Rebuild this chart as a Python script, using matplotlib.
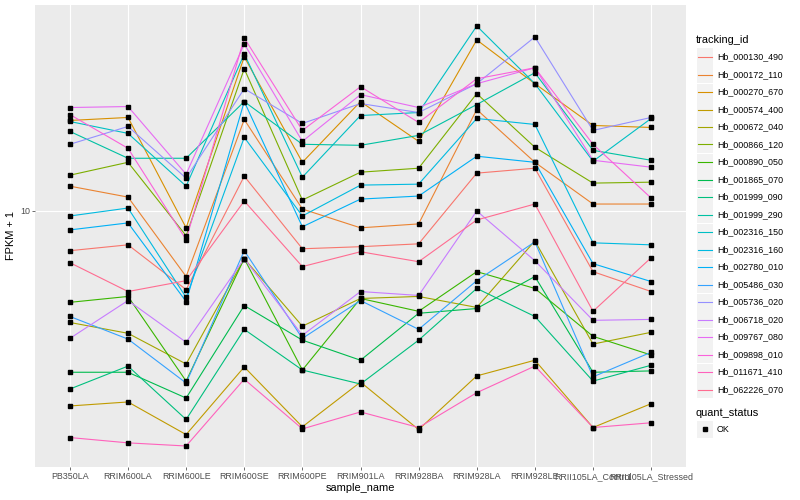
import numpy as np
import matplotlib
matplotlib.use("Agg")
from matplotlib import pyplot as plt
from matplotlib.lines import Line2D
from matplotlib.patches import Rectangle
from matplotlib.ticker import NullLocator

plt.rcParams['font.family'] = ['Liberation Sans', 'DejaVu Sans']

samples = ["PB350LA", "RRIM600LA", "RRIM600LE", "RRIM600SE", "RRIM600PE", "RRIM901LA",
           "RRIM928BA", "RRIM928LA", "RRIM928LE", "RRII105LA_Control", "RRII105LA_Stressed"]

# FPKM + 1 per gene, one value per sample
hb_000130_490 = [7.36, 7.70, 5.45, 13.08, 7.47, 7.59, 7.76, 13.39, 13.91, 6.26, 5.37]
hb_000172_110 = [12.11, 11.13, 6.03, 20.26, 10.15, 8.78, 9.05, 21.88, 14.56, 10.55, 10.55]
hb_000270_670 = [20.11, 20.58, 8.78, 32.86, 14.56, 23.26, 17.11, 37.44, 26.71, 19.35, 19.05]
hb_000574_400 = [2.22, 2.29, 1.78, 3.00, 1.89, 2.67, 1.85, 2.80, 3.16, 1.88, 2.26]
hb_000672_040 = [4.23, 3.89, 3.07, 6.92, 4.11, 5.09, 5.17, 4.75, 7.94, 3.58, 3.92]
hb_000866_120 = [13.18, 14.56, 8.26, 29.97, 10.88, 13.49, 13.91, 24.74, 16.35, 12.40, 12.49]
hb_000890_050 = [4.94, 5.17, 2.69, 6.92, 2.93, 5.09, 4.61, 6.26, 5.50, 3.80, 3.29]
hb_001865_070 = [2.88, 2.88, 2.36, 4.82, 3.69, 3.16, 4.54, 4.71, 6.03, 2.88, 2.91]
hb_001999_090 = [2.53, 3.02, 2.00, 4.01, 2.93, 2.63, 3.69, 5.50, 4.43, 2.69, 3.04]
hb_001999_290 = [18.48, 15.02, 15.02, 23.26, 16.73, 16.60, 17.92, 22.74, 29.06, 15.97, 14.79]
hb_002316_150 = [19.95, 18.20, 12.11, 33.62, 12.98, 20.89, 21.38, 41.69, 26.71, 14.68, 20.42]
hb_002316_160 = [9.62, 10.23, 5.13, 17.65, 9.62, 12.21, 12.30, 20.42, 19.50, 7.82, 7.70]
hb_002780_010 = [8.64, 9.12, 4.97, 23.26, 8.85, 10.96, 11.22, 15.26, 14.56, 6.66, 5.80]
hb_005486_030 = [4.43, 3.72, 2.65, 7.36, 3.74, 5.01, 4.01, 5.84, 7.88, 2.78, 3.36]
hb_005736_020 = [16.73, 19.20, 12.88, 25.70, 19.65, 22.91, 21.38, 26.71, 38.31, 18.62, 20.58]
hb_006718_020 = [3.74, 5.01, 3.63, 6.92, 3.83, 5.37, 5.21, 10.00, 6.81, 4.30, 4.33]
hb_009767_080 = [22.22, 22.39, 13.28, 36.31, 17.11, 24.55, 22.22, 26.71, 30.20, 14.79, 14.02]
hb_009898_010 = [21.05, 16.22, 8.01, 38.02, 18.62, 26.10, 19.80, 27.75, 30.20, 16.73, 11.05]
hb_011671_410 = [1.74, 1.67, 1.63, 2.73, 1.86, 2.12, 1.88, 2.46, 3.02, 1.88, 1.95]
hb_062226_070 = [6.71, 5.37, 5.84, 10.80, 6.51, 7.30, 6.76, 9.33, 10.55, 4.61, 6.97]

tracking_ids = ["Hb_000130_490", "Hb_000172_110", "Hb_000270_670", "Hb_000574_400",
                "Hb_000672_040", "Hb_000866_120", "Hb_000890_050", "Hb_001865_070",
                "Hb_001999_090", "Hb_001999_290", "Hb_002316_150", "Hb_002316_160",
                "Hb_002780_010", "Hb_005486_030", "Hb_005736_020", "Hb_006718_020",
                "Hb_009767_080", "Hb_009898_010", "Hb_011671_410", "Hb_062226_070"]
series = [hb_000130_490, hb_000172_110, hb_000270_670, hb_000574_400, hb_000672_040,
          hb_000866_120, hb_000890_050, hb_001865_070, hb_001999_090, hb_001999_290,
          hb_002316_150, hb_002316_160, hb_002780_010, hb_005486_030, hb_005736_020,
          hb_006718_020, hb_009767_080, hb_009898_010, hb_011671_410, hb_062226_070]

# ggplot default hue palette for 20 groups
colors = ["#F8766D", "#EA8331", "#D89000", "#C09B00", "#A3A500", "#7CAE00", "#39B600",
          "#00BB4E", "#00BF7D", "#00C1A3", "#00BFC4", "#00BAE0", "#00B0F6", "#35A2FF",
          "#9590FF", "#C77CFF", "#E76BF3", "#FA62DB", "#FF62BC", "#FF6C91"]

W, H = 800, 500
fig = plt.figure(figsize=(8, 5), dpi=100)
ax = fig.add_axes([35 / W, 1 - 467 / H, 651 / W, 462 / H])
ax.set_facecolor('#EBEBEB')

x = np.arange(len(samples))
for vals, c in zip(series, colors):
    ax.plot(x, vals, color=c, lw=0.8, zorder=2)
for vals in series:
    ax.plot(x, vals, ls='none', marker='s', color='black', ms=2.6, zorder=3)

ax.set_yscale('log')
allv = np.log10(np.concatenate([np.array(s) for s in series]))
lo, hi = allv.min(), allv.max()
pad = 0.05 * (hi - lo)
ax.set_ylim(10 ** (lo - pad), 10 ** (hi + pad))
ax.set_xlim(-0.6, len(samples) - 0.4)

ax.set_xticks(x)
ax.set_xticklabels(samples)
ax.set_yticks([10])
ax.set_yticklabels(['10'])
ax.yaxis.set_minor_locator(NullLocator())
ax.grid(True, color='white', lw=0.8)
ax.set_axisbelow(True)
for s in ax.spines.values():
    s.set_visible(False)
ax.tick_params(axis='both', length=2.2, width=0.5, color='#333333',
               labelcolor='#4D4D4D', labelsize=6.4, pad=1.5)
ax.set_xlabel('sample_name', fontsize=7.9, labelpad=1.5)
ax.set_ylabel('FPKM + 1', fontsize=7.9, labelpad=3)

# legend, drawn by hand in ggplot style
fig.text(696 / W, 1 - 40 / H, 'tracking_id', fontsize=7.9, va='center', ha='left')
for i, (tid, c) in enumerate(zip(tracking_ids, colors)):
    yc = 57 + i * 17.5
    fig.patches.append(Rectangle((697 / W, 1 - (yc + 8.5) / H), 16 / W, 17 / H,
                                 facecolor='#F2F2F2', edgecolor='none',
                                 transform=fig.transFigure))
    fig.add_artist(Line2D([698 / W, 712 / W], [1 - yc / H] * 2, color=c, lw=0.8,
                          transform=fig.transFigure))
    fig.text(717 / W, 1 - yc / H, tid, fontsize=6.4, va='center', ha='left')

fig.text(696 / W, 1 - 413 / H, 'quant_status', fontsize=7.9, va='center', ha='left')
fig.patches.append(Rectangle((697 / W, 1 - (429 + 8.5) / H), 16 / W, 17 / H,
                             facecolor='#F2F2F2', edgecolor='none',
                             transform=fig.transFigure))
fig.add_artist(Line2D([705 / W], [1 - 429 / H], ls='none', marker='s', color='black',
                      ms=2.6, transform=fig.transFigure))
fig.text(717 / W, 1 - 429 / H, 'OK', fontsize=6.4, va='center', ha='left')

fig.savefig('out.png', dpi=100)
